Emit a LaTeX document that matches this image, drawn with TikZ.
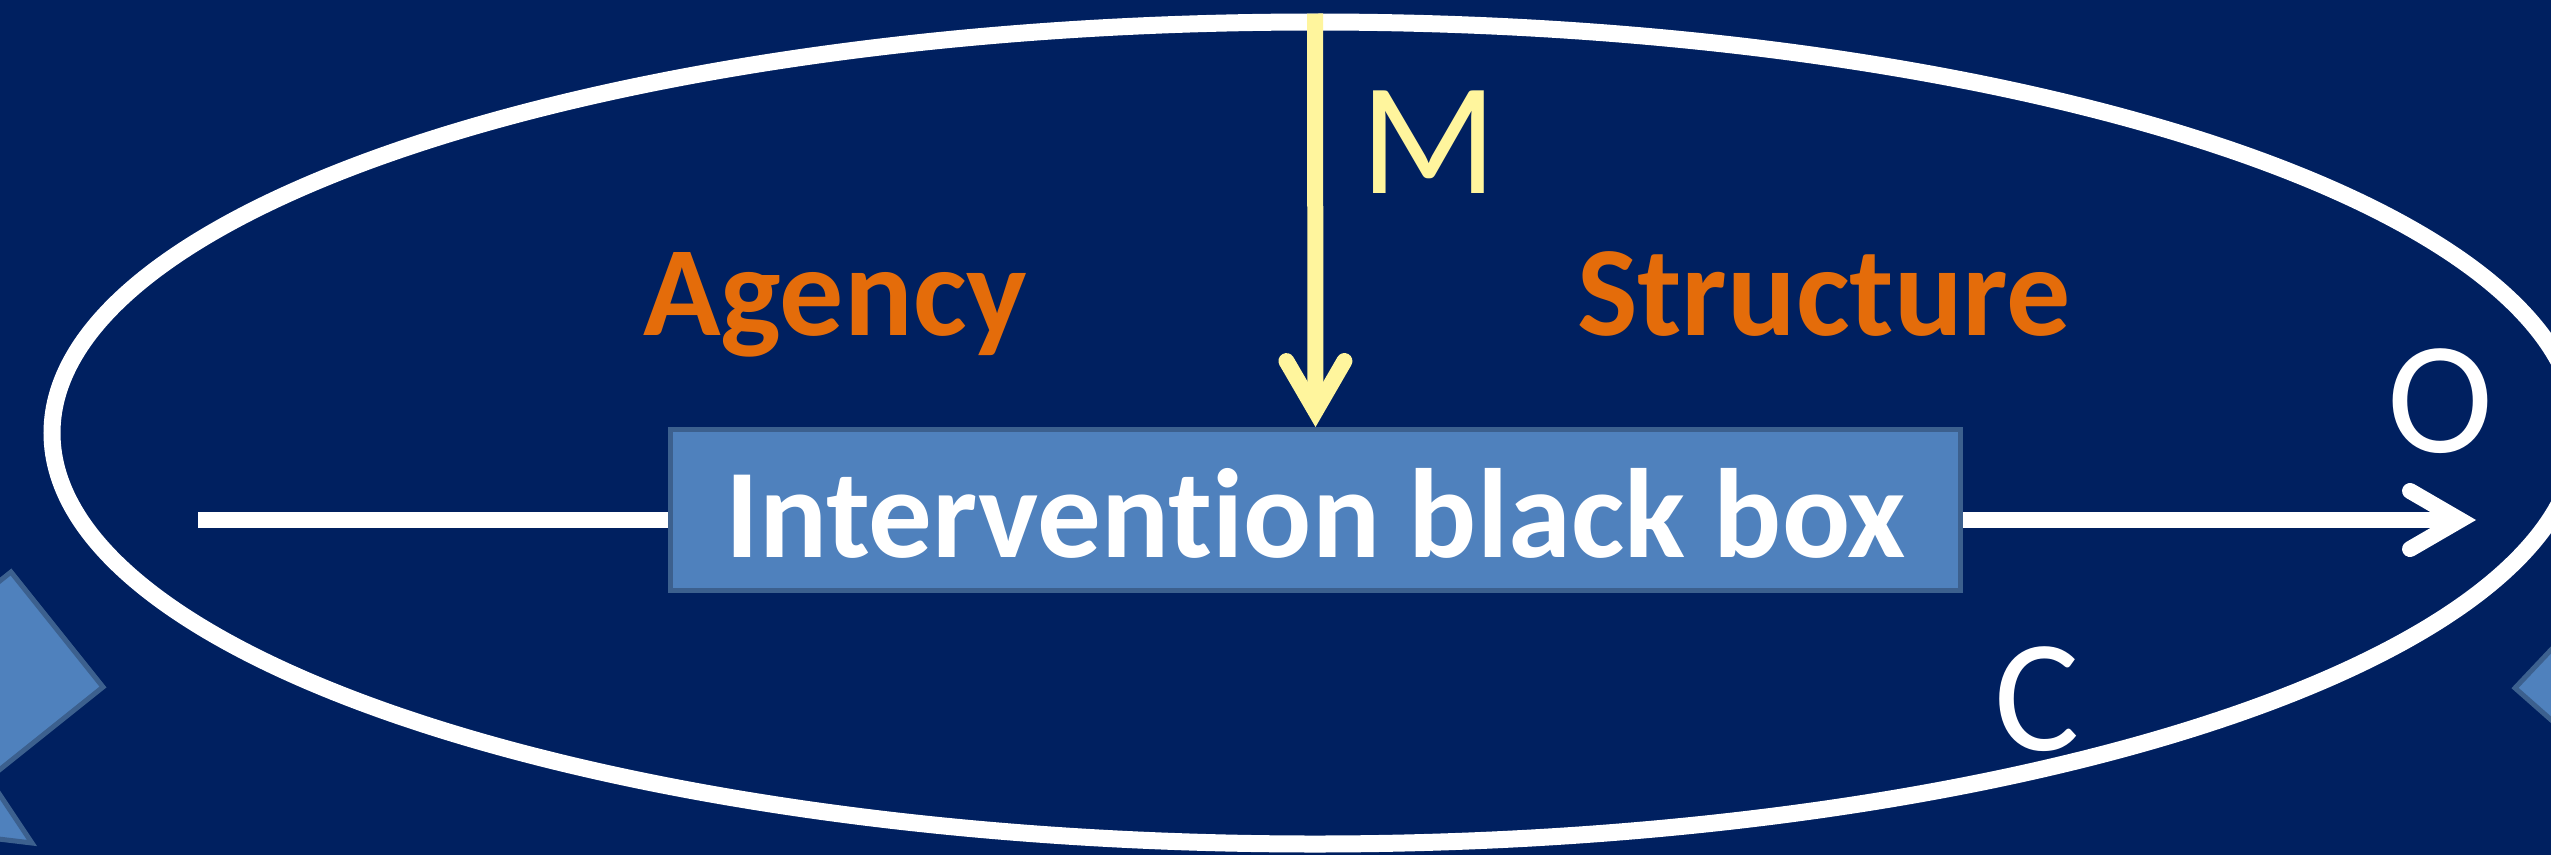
\documentclass[tikz,border=0pt]{standalone}
\usepackage{fontspec}
\setmainfont{Carlito}[Ligatures=NoCommon]
\usetikzlibrary{arrows.meta,shapes.geometric}
\definecolor{bgnavy}{RGB}{0,32,96}
\definecolor{boxblue}{RGB}{79,129,189}
\definecolor{boxedge}{RGB}{60,96,142}
\definecolor{agorange}{RGB}{228,108,10}
\definecolor{softyellow}{RGB}{255,245,157}
\tikzset{
  flowline/.style={line width=16pt},
  barbtip/.style={-{Straight Barb[length=50pt,width=58pt,line cap=round]}},
  bigbold/.style={font=\fontsize{128}{150}\selectfont\bfseries, inner sep=0pt, outer sep=0pt},
  bigreg/.style={font=\fontsize{160}{190}\selectfont, inner sep=0pt, outer sep=0pt},
  sideshape/.style={fill=boxblue, draw=boxedge, line width=5pt, line join=miter}
}
\begin{document}
\begin{tikzpicture}[x=1pt,y=-1pt]
  \useasboundingbox (0,0) rectangle (2551,855);
  \fill[bgnavy] (0,0) rectangle (2551,855);
  \clip (0,0) rectangle (2551,855);
  % side shapes partly visible
  \draw[sideshape] (11,572) -- (103,687) -- (-12,779) -- (-104,664) -- cycle;
  \draw[sideshape] (-20,765) -- (32,843) -- (-60,832) -- cycle;
  \draw[sideshape] (2515,688) -- (2600,598) -- (2600,763) -- cycle;
  % ellipse
  \node[ellipse, draw=white, line width=17pt, minimum width=2526pt, minimum height=822pt, inner sep=0pt] (ell) at (1315,433) {};
  % central box
  \node[fill=boxblue, draw=boxedge, line width=5pt, minimum width=1290pt, minimum height=161pt,
        inner sep=0pt, text height=94pt, text depth=0pt, text=white,
        font=\fontsize{127}{150}\selectfont\bfseries] (box) at (1315.5,510) {Intervention black box};
  % connectors
  \coordinate (lstart) at (198,520);
  \coordinate (rend) at (2476,520);
  \draw[flowline, white] (lstart) -- (lstart -| box.west);
  \draw[flowline, white, barbtip] (rend -| box.east) -- (rend);
  \draw[flowline, softyellow, barbtip] (ell.north) -- (box.north);
  % labels
  \node[bigbold, text=agorange, anchor=base west] (agency) at (643,335) {Agency};
  \node[bigbold, text=agorange, anchor=base west] (structure) at (1577,335) {Structure};
  \node[bigreg, text=softyellow, anchor=base west] (mlab) at (1360,193) {M};
  \node[bigreg, text=white, anchor=base west] (olab) at (2387,452) {O};
  \node[bigreg, text=white, anchor=base west] (clab) at (1994,750) {C};
\end{tikzpicture}
\end{document}
